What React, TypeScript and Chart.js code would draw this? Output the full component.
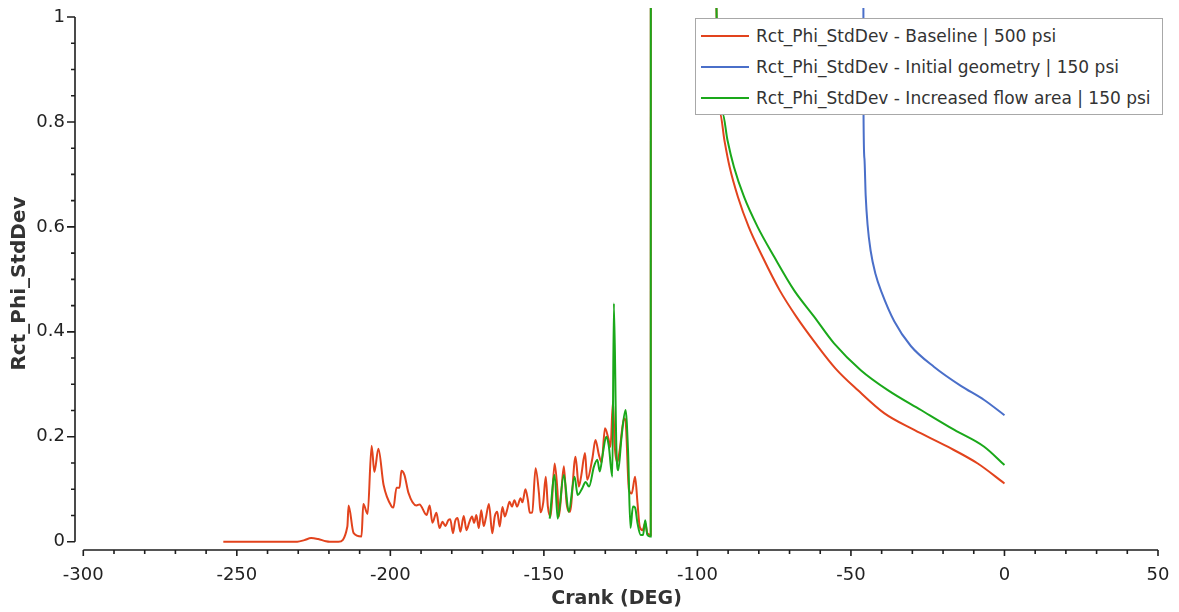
import React, { useEffect, useRef } from "react";
import { Chart, registerables } from "chart.js";

Chart.register(...registerables);

// ---- Data ----
const baselineCrank = [
  -254.4, -230.3, -228.0, -225.8, -223.5, -221.0, -219.8, -216.9, -214.0, -213.6,
  -212.0, -209.4, -208.8, -207.4, -206.1, -205.2, -203.9, -202.2, -199.6, -199.0,
  -198.0, -197.0, -196.4, -195.4, -194.1, -191.5, -190.5, -188.2, -187.2, -186.3,
  -185.0, -184.0, -183.0, -182.1, -181.1, -180.5, -179.6, -178.9, -178.1, -177.2,
  -176.1, -175.2, -174.3, -173.4, -172.7, -172.0, -171.2, -170.4, -169.6, -168.9,
  -167.9, -166.8, -166.0, -165.2, -164.4, -163.5, -162.7, -162.0, -161.2, -160.4,
  -159.6, -158.7, -157.6, -157.0, -156.0, -155.2, -154.6, -153.8, -152.7, -151.6,
  -151.1, -150.2, -149.4, -148.7, -147.8, -146.5, -145.6, -145.1, -143.5, -142.6,
  -141.5, -139.7, -138.6, -137.8, -136.6, -135.9, -134.2, -133.2, -132.1, -131.2,
  -130.1, -129.0, -128.3, -127.5, -126.9, -126.1, -125.3, -123.9, -123.4, -122.3,
  -121.4, -120.3, -119.5, -118.8, -117.9, -117.0, -116.3, -115.2, -115.1, -93.9,
  -93.8, -92.6, -91.2, -89.5, -86.8, -83.3, -78.8, -73.2, -67.8, -61.5,
  -55.0, -47.8, -39.2, -29.4, -18.5, -8.7, 0,
];
const baselineValue = [
  0, 0, 0.003, 0.007, 0.005, 0.001, 0, 0, 0.029, 0.069,
  0.017, 0.01, 0.072, 0.053, 0.183, 0.133, 0.177, 0.108, 0.067, 0.065,
  0.103, 0.103, 0.135, 0.127, 0.093, 0.069, 0.071, 0.051, 0.069, 0.036,
  0.055, 0.026, 0.038, 0.03, 0.041, 0.043, 0.016, 0.039, 0.045, 0.019,
  0.049, 0.022, 0.037, 0.048, 0.036, 0.051, 0.026, 0.06, 0.03, 0.045,
  0.072, 0.016, 0.048, 0.057, 0.029, 0.066, 0.048, 0.06, 0.076, 0.067,
  0.079, 0.067, 0.083, 0.075, 0.1, 0.079, 0.055, 0.056, 0.14, 0.092,
  0.056, 0.075, 0.124, 0.067, 0.048, 0.149, 0.099, 0.048, 0.144, 0.073,
  0.057, 0.162, 0.105, 0.127, 0.169, 0.118, 0.159, 0.194, 0.166, 0.151,
  0.216, 0.197, 0.181, 0.267, 0.181, 0.151, 0.175, 0.235, 0.23, 0.099,
  0.092, 0.124, 0.073, 0.029, 0.022, 0.035, 0.016, 0.013, 5, 5,
  1.02, 0.816, 0.765, 0.714, 0.657, 0.6, 0.543, 0.479, 0.429, 0.378,
  0.33, 0.289, 0.245, 0.213, 0.181, 0.149, 0.111,
];

const initialCrank = [-46.3, -45.9, -45.6, -45.2, -44.6, -43.6, -42.0, -40.0, -35.9, -30.5, -22.9, -14.2, -6.6, 0];
const initialValue = [3, 0.816, 0.73, 0.66, 0.605, 0.555, 0.51, 0.475, 0.42, 0.373, 0.333, 0.297, 0.27, 0.241];

const increasedCrank = [
  -148.1, -146.5, -145.5, -143.5, -141.9, -140.0, -139.0, -137.5, -136.4, -135.3,
  -133.7, -132.6, -131.8, -130.8, -129.7, -128.9, -127.7, -127.2, -126.4, -125.8,
  -124.7, -123.4, -122.6, -121.8, -121.0, -120.3, -119.5, -118.5, -117.7, -117.0,
  -116.3, -115.5, -115.2, -115.1, -93.9, -93.8, -91.8, -90.2, -88.1, -84.8,
  -80.4, -75.0, -68.5, -62.0, -55.5, -46.8, -38.0, -27.2, -16.3, -6.6, 0,
];
const increasedValue = [
  0.044, 0.127, 0.044, 0.127, 0.057, 0.124, 0.089, 0.102, 0.114, 0.105,
  0.143, 0.156, 0.134, 0.168, 0.2, 0.184, 0.124, 0.454, 0.181, 0.136,
  0.2, 0.251, 0.175, 0.026, 0.067, 0.065, 0.035, 0.013, 0.013, 0.041,
  0.013, 0.01, 0.01, 5, 5, 1.02, 0.816, 0.765, 0.714, 0.657,
  0.6, 0.543, 0.479, 0.429, 0.378, 0.327, 0.289, 0.251, 0.213, 0.181, 0.146,
];

const seriesLabels = [
  "Rct_Phi_StdDev - Baseline | 500 psi",
  "Rct_Phi_StdDev - Initial geometry | 150 psi",
  "Rct_Phi_StdDev - Increased flow area | 150 psi",
];
const seriesColors = ["#e2431d", "#4a6fc9", "#1aa81a"];

const xTickValues = [-300, -250, -200, -150, -100, -50, 0, 50];
const yTickValues = [0, 0.2, 0.4, 0.6, 0.8, 1];
const yTickLabels = ["0", "0.2", "0.4", "0.6", "0.8", "1"];

const xTitle = "Crank (DEG)";
const yTitle = "Rct_Phi_StdDev";

const FONT = "'DejaVu Sans', Verdana, sans-serif";

const toPoints = (xs: number[], ys: number[]) => xs.map((x, i) => ({ x, y: ys[i] }));

// Axis lines and tick marks drawn from the scales
const axesPlugin = {
  id: "offsetAxes",
  afterDraw(chart: any) {
    const { ctx, chartArea, scales } = chart;
    const xs = scales.x;
    const ys = scales.y;
    ctx.save();
    ctx.strokeStyle = "#1e1e1e";
    ctx.lineWidth = 1.6;
    const ax = chartArea.left;
    ctx.beginPath();
    ctx.moveTo(ax, ys.getPixelForValue(1));
    ctx.lineTo(ax, ys.getPixelForValue(0));
    for (let i = 0; i <= 20; i++) {
      const p = ys.getPixelForValue(i * 0.05);
      const major = i % 4 === 0;
      ctx.moveTo(ax, p);
      ctx.lineTo(ax - (major ? 8 : 4), p);
    }
    ctx.stroke();
    const ay = chartArea.bottom;
    ctx.beginPath();
    ctx.moveTo(xs.getPixelForValue(-300), ay);
    ctx.lineTo(xs.getPixelForValue(50), ay);
    for (let v = -300; v <= 50; v += 10) {
      const p = xs.getPixelForValue(v);
      const major = v % 50 === 0;
      ctx.moveTo(p, ay);
      ctx.lineTo(p, ay + (major ? 6 : 4));
    }
    ctx.stroke();
    ctx.restore();
  },
};

export default function App() {
  const canvasRef = useRef<HTMLCanvasElement | null>(null);

  useEffect(() => {
    if (!canvasRef.current) return;
    const data = [
      toPoints(baselineCrank, baselineValue),
      toPoints(initialCrank, initialValue),
      toPoints(increasedCrank, increasedValue),
    ];
    const orders = [3, 2, 1];
    const chart = new Chart(canvasRef.current, {
      type: "line",
      data: {
        datasets: data.map((d, i) => ({
          label: seriesLabels[i],
          data: d,
          borderColor: seriesColors[i],
          backgroundColor: seriesColors[i],
          borderWidth: 2,
          pointRadius: 0,
          cubicInterpolationMode: "monotone",
          fill: false,
          order: orders[i],
          clip: { left: 0, top: 9, right: 0, bottom: 0 } as any,
        })),
      },
      options: {
        animation: false,
        responsive: true,
        maintainAspectRatio: false,
        layout: { padding: { top: 17, right: 21, left: 0, bottom: 0 } },
        plugins: { legend: { display: false }, tooltip: { enabled: false } },
        scales: {
          x: {
            type: "linear",
            min: -302.7,
            max: 50,
            afterBuildTicks: (s: any) => {
              s.ticks = xTickValues.map((v) => ({ value: v }));
            },
            afterFit: (s: any) => {
              s.height = 62;
              s.paddingLeft = 0;
              s.paddingRight = 0;
            },
            grid: { display: false, drawTicks: false },
            border: { display: false },
            ticks: {
              autoSkip: false,
              maxRotation: 0,
              padding: 15,
              color: "#222",
              font: { family: FONT, size: 18 },
              callback: (v: any) => String(v),
            },
            title: {
              display: true,
              text: xTitle,
              color: "#333",
              font: { family: FONT, size: 19, weight: "bold" },
              padding: { top: 0, bottom: 2 },
            },
          },
          y: {
            type: "linear",
            min: -0.0158,
            max: 1,
            afterBuildTicks: (s: any) => {
              s.ticks = yTickValues.map((v) => ({ value: v }));
            },
            afterFit: (s: any) => {
              s.width = 75;
              s.paddingTop = 0;
              s.paddingBottom = 0;
            },
            grid: { display: false, drawTicks: false },
            border: { display: false },
            ticks: {
              autoSkip: false,
              padding: 10,
              color: "#222",
              font: { family: FONT, size: 18 },
              callback: (v: any) => {
                const idx = yTickValues.findIndex((t) => Math.abs(t - v) < 1e-9);
                return idx >= 0 ? yTickLabels[idx] : "";
              },
            },
            title: {
              display: true,
              text: yTitle,
              color: "#333",
              font: { family: FONT, size: 20, weight: "bold" },
              padding: { top: 8, bottom: 0 },
            },
          },
        },
      },
      plugins: [axesPlugin],
    });
    return () => chart.destroy();
  }, []);

  return (
    <div style={{ position: "fixed", left: 0, top: 0, width: 1179, height: 612, background: "#fff" }}>
      <canvas ref={canvasRef} />
      <div
        style={{
          position: "absolute",
          left: 695,
          top: 18,
          width: 466,
          height: 95,
          border: "1px solid #a8a8a8",
          background: "#fff",
          fontFamily: FONT,
          fontSize: 17,
          color: "#333",
        }}
      >
        {seriesLabels.map((lab, i) => (
          <div key={lab} style={{ display: "flex", alignItems: "center", height: 31, marginTop: i === 0 ? 1 : 0 }}>
            <div style={{ width: 48, height: 2, background: seriesColors[i], marginLeft: 5, marginRight: 7 }} />
            <span style={{ whiteSpace: "nowrap" }}>{lab}</span>
          </div>
        ))}
      </div>
    </div>
  );
}
